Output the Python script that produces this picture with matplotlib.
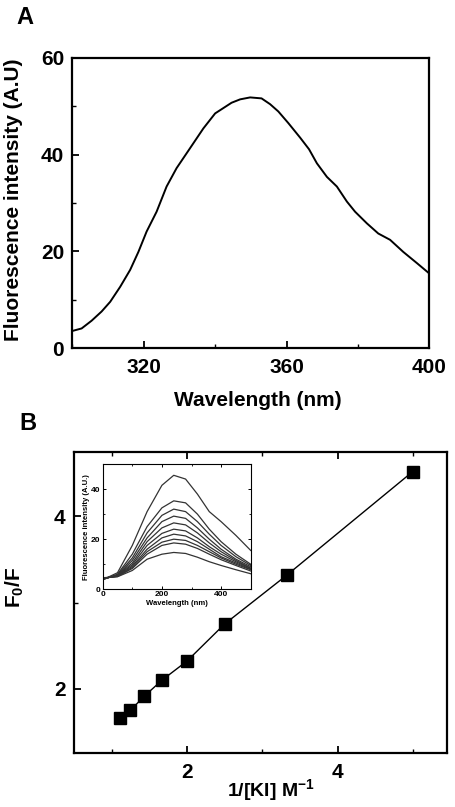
import matplotlib
matplotlib.use("Agg")
import matplotlib.pyplot as plt
from matplotlib.ticker import MultipleLocator

plt.rcParams['font.family'] = ['Liberation Sans', 'DejaVu Sans']
plt.rcParams['font.weight'] = 'bold'
plt.rcParams['mathtext.fontset'] = 'custom'
plt.rcParams['mathtext.rm'] = 'Liberation Sans:bold'
plt.rcParams['mathtext.bf'] = 'Liberation Sans:bold'
plt.rcParams['mathtext.it'] = 'Liberation Sans:bold'
plt.rcParams['mathtext.default'] = 'bf'

# ---- Panel A data: emission spectrum ----
wl_a = [300.1, 302.6, 305.4, 308.2, 310.6, 313.4, 316.2, 318.5, 320.8, 323.6,
        326.4, 329.2, 332.5, 336.7, 340.0, 342.3, 344.6, 347.0, 349.8, 353.0,
        355.4, 357.7, 360.5, 363.8, 366.3, 368.5, 371.3, 374.1, 376.9, 379.2,
        382.5, 385.7, 389.0, 392.7, 396.5, 399.9]
fl_a = [3.6, 4.1, 5.7, 7.6, 9.6, 12.7, 16.2, 19.9, 24.1, 28.2,
        33.4, 37.2, 40.8, 45.4, 48.5, 49.6, 50.7, 51.4, 51.8, 51.6,
        50.4, 48.9, 46.5, 43.5, 41.1, 38.2, 35.4, 33.4, 30.3, 28.2,
        25.8, 23.7, 22.4, 19.9, 17.6, 15.5]

# ---- Panel B data: Stern-Volmer style plot ----
inv_ki = [1.11, 1.25, 1.43, 1.67, 2.0, 2.5, 3.33, 5.0]
f0_f = [1.66, 1.75, 1.91, 2.10, 2.32, 2.75, 3.32, 4.52]

# ---- Inset data: quenching spectra ----
wl_in = [0, 50, 100, 150, 200, 240, 280, 320, 360, 400, 450, 500]
c1 = [3.8, 6.6, 17.5, 31.0, 41.5, 45.5, 44.0, 38.0, 31.0, 27.0, 21.5, 15.5]
c2 = [3.8, 6.0, 14.0, 25.0, 32.5, 35.3, 34.5, 30.0, 24.0, 19.0, 14.0, 10.0]
c3 = [4.0, 5.8, 12.5, 22.5, 29.5, 32.0, 31.0, 27.0, 22.0, 17.5, 13.0, 9.5]
c4 = [4.0, 5.6, 11.5, 20.5, 27.0, 29.2, 28.3, 24.5, 20.0, 16.0, 12.0, 9.0]
c5 = [4.2, 5.5, 10.5, 19.0, 24.5, 26.5, 25.7, 22.5, 18.5, 15.0, 11.5, 8.5]
c6 = [4.2, 5.4, 9.8, 17.5, 22.3, 24.0, 23.3, 20.5, 17.0, 14.0, 11.0, 8.3]
c7 = [4.3, 5.3, 9.2, 16.0, 20.5, 22.0, 21.3, 19.0, 16.0, 13.0, 10.5, 8.0]
c8 = [4.4, 5.2, 8.7, 15.0, 18.8, 20.0, 19.5, 17.5, 15.0, 12.5, 10.0, 7.8]
c9 = [4.5, 5.1, 8.3, 14.0, 17.5, 18.5, 18.0, 16.3, 14.0, 11.8, 9.5, 7.3]
c10 = [4.6, 5.0, 7.5, 12.0, 14.0, 14.7, 14.3, 12.8, 11.0, 9.5, 7.8, 6.2]
inset_curves = [c1, c2, c3, c4, c5, c6, c7, c8, c9, c10]

W, H = 455, 807
fig = plt.figure(figsize=(W / 100, H / 100), dpi=100)


def style_axes(ax, lw=1.6, top_ticks=False):
    for s in ax.spines.values():
        s.set_linewidth(lw)
    ax.tick_params(which='both', direction='in', top=top_ticks, right=False)
    ax.tick_params(which='major', length=5, width=1.3)
    ax.tick_params(which='minor', length=3, width=1.0)


# Panel A
axA = fig.add_axes([0.159, 0.5684, 0.7846, 0.3601])
axA.plot(wl_a, fl_a, color='black', lw=1.4)
axA.set_xlim(300, 400)
axA.set_ylim(0, 60)
axA.set_xticks([320, 360, 400])
axA.xaxis.set_minor_locator(MultipleLocator(20))
axA.yaxis.set_major_locator(MultipleLocator(20))
axA.yaxis.set_minor_locator(MultipleLocator(10))
style_axes(axA)
axA.tick_params(axis='x', labelsize=15, pad=7)
axA.tick_params(axis='y', labelsize=15, pad=6)
axA.set_xlabel('Wavelength (nm)', fontsize=15, fontweight='bold')
axA.xaxis.set_label_coords(0.52, -0.181)
axA.xaxis.label.set_va('center')
axA.set_ylabel('Fluorescence intensity (A.U)', fontsize=15, fontweight='bold')
axA.yaxis.set_label_coords(-0.166, 0.51)
axA.yaxis.label.set_va('center')
fig.text(25 / W, 1 - 18 / H, 'A', fontsize=17, fontweight='bold', ha='center', va='center')

# Panel B
axB = fig.add_axes([0.1626, 0.0665, 0.8192, 0.3738])
axB.plot(inv_ki, f0_f, color='black', lw=1.0, marker='s', ms=8.5,
         mfc='black', mec='black')
axB.set_xlim(0.5, 5.45)
axB.set_ylim(1.25, 4.75)
axB.set_xticks([2, 4])
axB.xaxis.set_minor_locator(MultipleLocator(1))
axB.set_yticks([2, 4])
axB.yaxis.set_minor_locator(MultipleLocator(1))
style_axes(axB, top_ticks=True)
axB.tick_params(axis='x', labelsize=15, pad=7)
axB.tick_params(axis='y', labelsize=15, pad=6)
axB.set_xlabel('1/[KI] M$^{-1}$', fontsize=14, fontweight='bold')
axB.xaxis.set_label_coords(0.5286, -0.122)
axB.xaxis.label.set_va('center')
axB.set_ylabel('F$_0$/F', fontsize=15, fontweight='bold')
axB.yaxis.set_label_coords(-0.158, 0.551)
axB.yaxis.label.set_va('center')
fig.text(28 / W, 1 - 423 / H, 'B', fontsize=17, fontweight='bold', ha='center', va='center')

# Inset
axI = fig.add_axes([0.2257, 0.2698, 0.3253, 0.1552])
for c in inset_curves:
    axI.plot(wl_in, c, color='#333333', lw=0.9)
axI.set_xlim(0, 500)
axI.set_ylim(0, 50)
axI.set_xticks([0, 200, 400])
axI.xaxis.set_minor_locator(MultipleLocator(100))
axI.set_yticks([0, 20, 40])
axI.yaxis.set_minor_locator(MultipleLocator(10))
for s in axI.spines.values():
    s.set_linewidth(0.8)
axI.tick_params(which='both', direction='in', top=True, right=True)
axI.tick_params(which='major', length=2.5, width=0.7, labelsize=6, pad=1.5)
axI.tick_params(which='minor', length=1.5, width=0.6)
axI.set_xlabel('Wavelength (nm)', fontsize=5.5, fontweight='bold', labelpad=1)
axI.set_ylabel('Fluorescence intensity (A.U.)', fontsize=5.5, fontweight='bold', labelpad=1)

fig.savefig('out.png', dpi=100)
